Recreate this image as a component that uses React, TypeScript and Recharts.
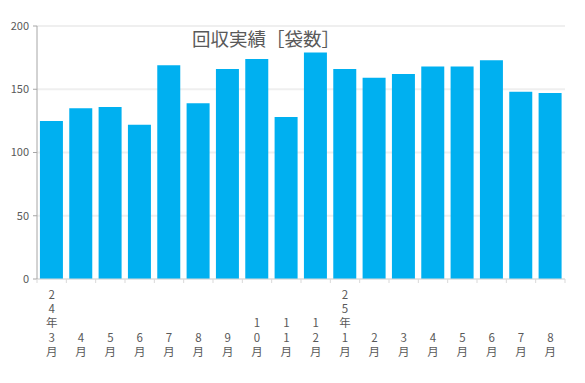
import { BarChart, Bar, XAxis, YAxis, CartesianGrid } from 'recharts';

const months = [
  '24年3月', '4月', '5月', '6月', '7月', '8月', '9月', '10月', '11月', '12月',
  '25年1月', '2月', '3月', '4月', '5月', '6月', '7月', '8月',
];
const bags = [125, 135, 136, 122, 169, 139, 166, 174, 128, 179, 166, 159, 162, 168, 168, 173, 148, 147];
const yTicks = [0, 50, 100, 150, 200];

const data = months.map((m, i) => ({ month: m, bags: bags[i] }));

const FONT = '"Noto Sans CJK JP", "Noto Sans", sans-serif';
const TEXT = '#595959';

// vertical label: one char per line, bottom-aligned
const XTick = ({ x, y, payload, index }: any) => {
  const chars: string[] = Array.from(payload.value as string);
  const step = 528 / months.length;
  const n = chars.length;
  return (
    <g>
      <line x1={x - step / 2} x2={x - step / 2} y1={y} y2={y + 4} stroke="#d9d9d9" />
      {index === months.length - 1 && (
        <line x1={x + step / 2} x2={x + step / 2} y1={y} y2={y + 4} stroke="#d9d9d9" />
      )}
      <text textAnchor="middle" fontSize={11.5} fill={TEXT} fontFamily={FONT}>
        {chars.map((c, i) => (
          <tspan key={i} x={x} y={y + 77 - (n - 1 - i) * 14.3}>
            {c}
          </tspan>
        ))}
      </text>
    </g>
  );
};

const App = () => {
  return (
    <div style={{ position: 'absolute', left: 0, top: 0, width: 585, height: 383, background: '#fff' }}>
      <BarChart
        width={585}
        height={383}
        data={data}
        margin={{ top: 26, right: 20, bottom: 14, left: 0 }}
        barCategoryGap="10%"
      >
        <CartesianGrid vertical={false} stroke="#efefef" strokeWidth={2} />
        <XAxis
          dataKey="month"
          interval={0}
          height={90}
          tickLine={false}
          tickSize={0}
          tickMargin={0}
          axisLine={{ stroke: '#d9d9d9' }}
          tick={<XTick />}
        />
        <YAxis
          width={37}
          domain={[0, 200]}
          ticks={yTicks}
          tickSize={4}
          tickMargin={4}
          axisLine={{ stroke: '#a6a6a6' }}
          tickLine={{ stroke: '#a6a6a6' }}
          tick={{ fontSize: 11, fill: TEXT, fontFamily: FONT }}
        />
        <YAxis
          yAxisId="right"
          orientation="right"
          width={0}
          tick={false}
          tickLine={false}
          axisLine={{ stroke: '#eeeeee' }}
        />
        <Bar dataKey="bags" fill="#00B0F0" isAnimationActive={false} />
      </BarChart>
      <div
        style={{
          position: 'absolute',
          left: 166,
          width: 200,
          top: 27,
          textAlign: 'center',
          fontSize: 18.5,
          color: TEXT,
          fontFamily: FONT,
          lineHeight: '22px',
        }}
      >
        回収実績［袋数］
      </div>
    </div>
  );
};

export default App;
